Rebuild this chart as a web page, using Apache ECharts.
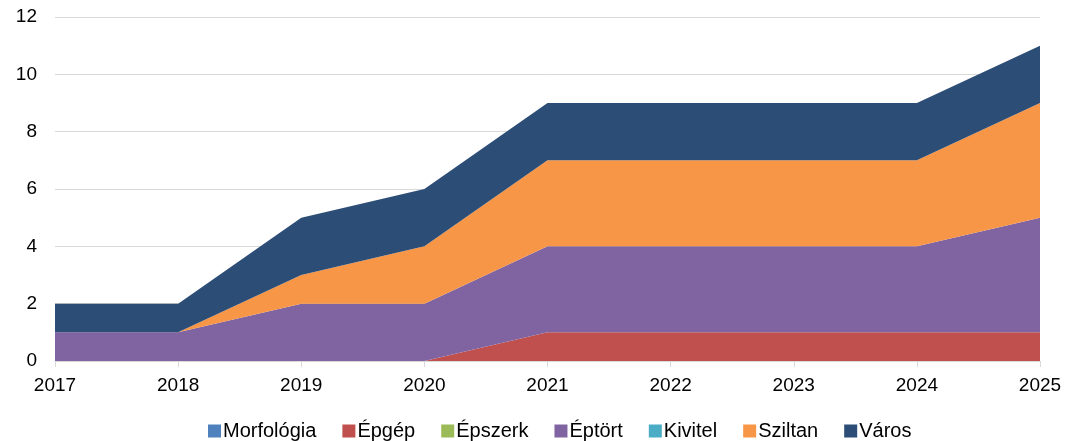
<!DOCTYPE html>
<html>
<head>
<meta charset="utf-8">
<script src="https://cdn.jsdelivr.net/npm/echarts@6/dist/echarts.min.js"></script>
<style>
  html, body { margin: 0; padding: 0; background: #fff; }
  #chart { width: 1077px; height: 441px; }
</style>
</head>
<body>
<div id="chart"></div>
<script>
// évek (x tengely)
const years = ['2017', '2018', '2019', '2020', '2021', '2022', '2023', '2024', '2025'];

// sorozatok
const morfologia = [0, 0, 0, 0, 0, 0, 0, 0, 0];
const epgep      = [0, 0, 0, 0, 1, 1, 1, 1, 1];
const epszerk    = [0, 0, 0, 0, 0, 0, 0, 0, 0];
const eptort     = [1, 1, 2, 2, 3, 3, 3, 3, 4];
const kivitel    = [0, 0, 0, 0, 0, 0, 0, 0, 0];
const sziltan    = [0, 0, 1, 2, 3, 3, 3, 3, 4];
const varos      = [1, 1, 2, 2, 2, 2, 2, 2, 2];

const seriesNames = ['Morfológia', 'Épgép', 'Épszerk', 'Éptört', 'Kivitel', 'Sziltan', 'Város'];
const seriesData = [morfologia, epgep, epszerk, eptort, kivitel, sziltan, varos];
const colors = ['#4F81BD', '#C0504D', '#9BBB59', '#8064A2', '#4BACC6', '#F79646', '#2C4D75'];

let myChart = echarts.init(document.getElementById('chart'));

let option = {
  animation: false,
  color: colors,
  textStyle: { fontFamily: 'Liberation Sans, Arial, sans-serif' },
  grid: { left: 55, right: 37, top: 17, bottom: 80 },
  legend: {
    top: 416,
    left: 203,
    itemWidth: 13,
    itemHeight: 13,
    itemGap: 26,
    icon: 'rect',
    textStyle: { fontSize: 20, color: '#000', padding: [0, 0, 0, -3] },
    data: seriesNames
  },
  xAxis: {
    type: 'category',
    boundaryGap: false,
    data: years,
    axisLine: { lineStyle: { color: '#d9d9d9', width: 1 } },
    axisTick: { show: true, alignWithLabel: true, length: 6, lineStyle: { color: '#d9d9d9' } },
    axisLabel: { fontSize: 19, color: '#000', margin: 15 },
    splitLine: { show: false }
  },
  yAxis: {
    type: 'value',
    min: 0,
    max: 12,
    interval: 2,
    axisLine: { show: false },
    axisTick: { show: false },
    axisLabel: { fontSize: 19, color: '#000', margin: 18 },
    splitLine: { lineStyle: { color: '#d9d9d9', width: 1 } }
  },
  series: seriesNames.map((name, i) => ({
    name: name,
    type: 'line',
    stack: 'total',
    data: seriesData[i],
    symbol: 'none',
    lineStyle: { width: 0 },
    areaStyle: { color: colors[i], opacity: 1 },
    z: 2
  }))
};

myChart.setOption(option);
</script>
</body>
</html>
